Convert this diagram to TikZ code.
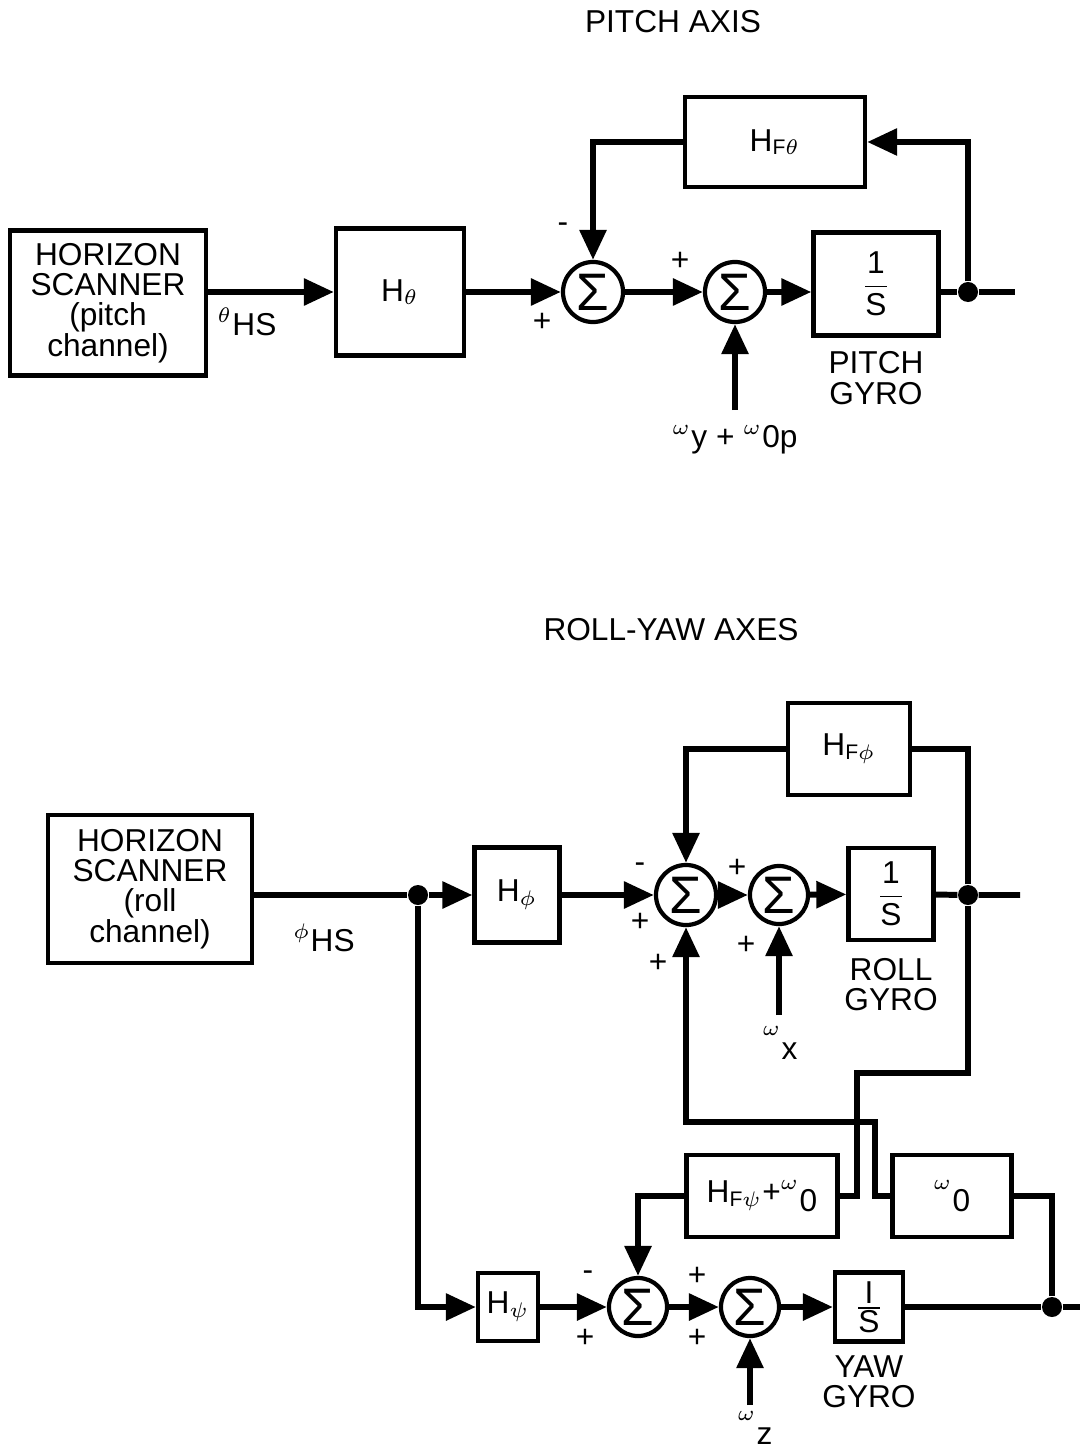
\documentclass[tikz,border=0pt]{standalone}
\usepackage{fontspec}
\setmainfont{Liberation Sans}
\usetikzlibrary{arrows.meta,positioning,calc}

\begin{document}
\begin{tikzpicture}[x=0.01cm,y=-0.01cm,
    font=\fontsize{9}{8.6}\selectfont,
    blk/.style={draw,line width=1.2pt,inner sep=1pt,align=center},
    sumnode/.style={draw,circle,line width=1.2pt,minimum size=0.6cm,inner sep=0pt,font=\fontsize{15}{15}\selectfont},
    jdot/.style={circle,fill,inner sep=0pt,minimum size=0.2cm},
    arr/.style={-{Triangle[length=3mm,width=2.6mm]},line width=1.7pt},
    ln/.style={line width=1.7pt},
    sgn/.style={inner sep=0pt},
    lbl/.style={align=center,inner sep=1pt}]
  \useasboundingbox (0,0) rectangle (1080,1446);

  % pitch axis
  \node (tP) at (673,22) {PITCH AXIS};
  \node[blk,minimum width=1.96cm,minimum height=1.45cm] (hsP) at (108,303)
    {HORIZON\\SCANNER\\(pitch\\channel)};
  \node[blk,minimum width=1.28cm,minimum height=1.27cm] (hth) at (400,292) {H\textsubscript{$\theta$}};
  \node[sumnode] (sA) at (593,292) {Σ};
  \node[sumnode] (sB) at (735,292) {Σ};
  \node[blk,minimum width=1.25cm,minimum height=1.03cm] (gP) at (876,284)
    {$\displaystyle\frac{\mbox{1}}{\mbox{S}}$};
  \node[lbl,below=0.1cm of gP] (lgP) {PITCH\\GYRO};
  \node[jdot] (jP) at (968,292) {};
  \coordinate (oP) at (1015,292);
  \node[blk,minimum width=1.80cm,minimum height=0.90cm] (hfth) at (775,142) {H\textsubscript{F$\theta$}};
  \coordinate (wY) at (735,410);
  \node (lwY) at (735,440) {$^{\omega}$y + $^{\omega}$0p};
  \node (lth) at (247,322) {$^{\theta}$HS};
  \node[sgn] at (563,228) {-};
  \node[sgn] at (542,322) {+};
  \node[sgn] at (680,261) {+};

  \draw[arr] (hsP.east |- hth) -- (hth);
  \draw[arr] (hth) -- (sA);
  \draw[arr] (sA) -- (sB);
  \draw[arr] (sB) -- (sB -| gP.west);
  \draw[ln] (gP.east |- jP) -- (jP) -- (oP);
  \draw[arr] (jP) |- (hfth);
  \draw[arr] (hfth) -| (sA);
  \draw[arr] (wY) -- (sB);

  % roll-yaw axes
  \node (tR) at (671,630) {ROLL-YAW AXES};
  \node[blk,minimum width=2.04cm,minimum height=1.48cm] (hsR) at (150,889)
    {HORIZON\\SCANNER\\(roll\\channel)};
  \node[jdot] (jR) at (418,895) {};
  \node[blk,minimum width=0.85cm,minimum height=0.95cm] (hphi) at (517,895) {H$_{\phi}$};
  \node[sumnode] (sC) at (686,895) {Σ};
  \node[sumnode,minimum size=0.58cm] (sD) at (779,895) {Σ};
  \node[blk,minimum width=0.85cm,minimum height=0.92cm] (gR) at (891,894)
    {$\displaystyle\frac{\mbox{1}}{\mbox{S}}$};
  \node[lbl,below=0.12cm of gR] (lgR) {ROLL\\GYRO};
  \node[jdot] (jRo) at (968,895) {};
  \coordinate (oR) at (1020,895);
  \node[blk,minimum width=1.22cm,minimum height=0.92cm] (hfphi) at (849,749) {H\textsubscript{F$\phi$}};
  \coordinate (wX) at (779,1015);
  \node (lwX) at (780,1043) {$^{\omega}$\raisebox{-0.6ex}{x}};
  \node (lphi) at (324,938) {$^{\phi}$HS};
  \node[sgn] at (640,868) {-};
  \node[sgn] at (640,922) {+};
  \node[sgn] at (658,963) {+};
  \node[sgn] at (737,868) {+};
  \node[sgn] at (746,945) {+};

  \node[blk,minimum width=0.60cm,minimum height=0.68cm] (hpsi) at (508,1307) {H\textsubscript{$\psi$}};
  \node[sumnode,minimum size=0.58cm] (sE) at (638,1307) {Σ};
  \node[sumnode,minimum size=0.58cm] (sF) at (750,1307) {Σ};
  \node[blk,minimum width=0.68cm,minimum height=0.69cm,inner sep=0pt] (gY) at (869,1307)
    {$\frac{\mbox{I}}{\mbox{S}}$};
  \node[lbl,below=0.08cm of gY] (lgY) {YAW\\GYRO};
  \node[jdot] (jY) at (1052,1307) {};
  \coordinate (oY) at (1080,1307);
  \node[blk,minimum width=1.51cm,minimum height=0.82cm] (hfpsi) at (762,1196)
    {H\textsubscript{F$\psi$}+$^{\omega}$\raisebox{-0.5ex}{0}};
  \node[blk,minimum width=1.19cm,minimum height=0.82cm] (wo) at (952,1196)
    {$^{\omega}$\raisebox{-0.5ex}{0}};
  \coordinate (wZ) at (750,1405);
  \node (lwZ) at (755,1428) {$^{\omega}$\raisebox{-0.6ex}{z}};
  \node[sgn] at (588,1276) {-};
  \node[sgn] at (585,1338) {+};
  \node[sgn] at (697,1276) {+};
  \node[sgn] at (697,1338) {+};
  \coordinate (cA) at (875,1122);
  \coordinate (cB) at (857,1073);

  \draw[ln] (hsR.east |- jR) -- (jR);
  \draw[arr] (jR) -- (hphi);
  \draw[arr] (hphi) -- (sC);
  \draw[arr] (sC) -- (sD);
  \draw[arr] (sD) -- (gR);
  \draw[ln] (gR) -- (jRo) -- (oR);
  \draw[ln] (jRo) |- (hfphi);
  \draw[arr] (hfphi) -| (sC);
  \draw[arr] (wX) -- (sD);

  \draw[arr] (jR) |- (hpsi);
  \draw[arr] (hpsi) -- (sE);
  \draw[arr] (sE) -- (sF);
  \draw[arr] (sF) -- (gY);
  \draw[ln] (gY) -- (jY) -- (oY);
  \draw[ln] (jY) |- (wo);
  \draw[arr] (wo) -| (cA) -| (sC);
  \draw[ln] (jRo) |- (cB) |- (hfpsi);
  \draw[arr] (hfpsi) -| (sE);
  \draw[arr] (wZ) -- (sF);
\end{tikzpicture}
\end{document}
